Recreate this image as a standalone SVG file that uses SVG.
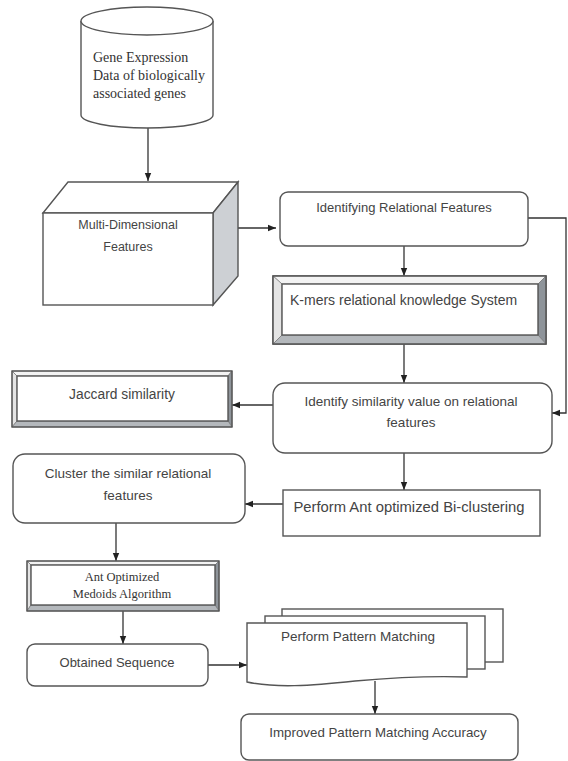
<svg xmlns="http://www.w3.org/2000/svg" width="568" height="761" viewBox="0 0 568 761">
<style>
.bx{fill:#fff;stroke:#555;stroke-width:1.4}
.ln{fill:none;stroke:#333;stroke-width:1.3}
.t{font-family:"Liberation Sans",Arial,sans-serif;fill:#444}
.s{font-family:"Liberation Serif","Times New Roman",serif;fill:#333}
.bv{stroke:#777;stroke-width:0.7}
.lt{fill:#f3f3f3}.lf{fill:#e4e4e4}.rt{fill:#8e949a}.bt{fill:#b4b8bc}
</style>
<defs>
<marker id="ah" viewBox="0 0 10 10" refX="10" refY="5" markerWidth="8" markerHeight="8" markerUnits="userSpaceOnUse" orient="auto"><path d="M0,1 L10,5 L0,9 z" fill="#222"/></marker>
</defs>
<rect width="568" height="761" fill="#fff"/>

<g id="connectors">
<path class="ln" d="M148,128 V181" marker-end="url(#ah)"/>
<path class="ln" d="M238,228 H276" marker-end="url(#ah)"/>
<path class="ln" d="M528,218 H566 V413 H552" marker-end="url(#ah)"/>
<path class="ln" d="M404,246 V276" marker-end="url(#ah)"/>
<path class="ln" d="M404,344 V383" marker-end="url(#ah)"/>
<path class="ln" d="M273,405 H232" marker-end="url(#ah)"/>
<path class="ln" d="M404,453 V490" marker-end="url(#ah)"/>
<path class="ln" d="M283,504 H245" marker-end="url(#ah)"/>
<path class="ln" d="M116,523 V561" marker-end="url(#ah)"/>
<path class="ln" d="M123,611 V644" marker-end="url(#ah)"/>
<path class="ln" d="M208,665 H247" marker-end="url(#ah)"/>
<path class="ln" d="M375,681 V714" marker-end="url(#ah)"/>
</g>

<g id="gene-data">
<path class="bx" d="M81,21 V115 A66,13 0 0 0 213,115 V21"/>
<ellipse class="bx" cx="147" cy="21" rx="66" ry="14"/>
<text class="s" font-size="14" x="93" y="62">Gene Expression</text>
<text class="s" font-size="14" x="93" y="80">Data of biologically</text>
<text class="s" font-size="14" x="93" y="98">associated genes</text>
</g>

<g id="multi-dimensional">
<polygon class="bx" points="43,213 68,182 238,182 213,213"/>
<polygon class="bx" points="213,213 238,182 238,276 213,305" style="fill:#cdd0d4"/>
<rect class="bx" x="43" y="213" width="170" height="92"/>
<text class="t" font-size="12.5" x="128" y="229" text-anchor="middle">Multi-Dimensional</text>
<text class="t" font-size="12.5" x="128" y="251" text-anchor="middle">Features</text>
</g>

<g id="identifying">
<rect class="bx" x="280" y="192" width="248" height="54" rx="8"/>
<text class="t" font-size="13" x="404" y="212" text-anchor="middle">Identifying Relational Features</text>
</g>

<g id="kmers">
<rect class="bx" x="273" y="276" width="273" height="68"/>
<polygon class="lt bv" points="273,276 546,276 538,284 282,284"/>
<polygon class="lf bv" points="273,276 282,284 282,335 273,344"/>
<polygon class="rt bv" points="546,276 546,344 538,335 538,284"/>
<polygon class="bt bv" points="273,344 546,344 538,335 282,335"/>
<rect x="273" y="276" width="273" height="68" fill="none" stroke="#555" stroke-width="1.4"/>
<rect class="bx" x="282" y="284" width="256" height="51"/>
<text class="t" font-size="14" x="290" y="305">K-mers relational knowledge System</text>
</g>

<g id="jaccard">
<polygon class="lt bv" points="12,371 232,371 228,376 17,376"/>
<polygon class="lf bv" points="12,371 17,376 17,421 12,427"/>
<polygon class="rt bv" points="232,371 232,427 228,421 228,376"/>
<polygon class="bt bv" points="12,427 232,427 228,421 17,421"/>
<rect x="12" y="371" width="220" height="56" fill="none" stroke="#555" stroke-width="1.4"/>
<rect class="bx" x="17" y="376" width="211" height="45"/>
<text class="t" font-size="13.8" x="122" y="399" text-anchor="middle">Jaccard similarity</text>
</g>

<g id="identify-similarity">
<rect class="bx" x="273" y="383" width="279" height="70" rx="12"/>
<text class="t" font-size="13.5" x="411" y="406" text-anchor="middle">Identify similarity value on relational</text>
<text class="t" font-size="13.5" x="411" y="427" text-anchor="middle">features</text>
</g>

<g id="cluster">
<rect class="bx" x="13" y="454" width="232" height="69" rx="12"/>
<text class="t" font-size="13.5" x="128" y="478" text-anchor="middle">Cluster the similar relational</text>
<text class="t" font-size="13.5" x="128" y="500" text-anchor="middle">features</text>
</g>

<g id="perform-ant">
<rect class="bx" x="283" y="490" width="257" height="46"/>
<text class="t" font-size="14.8" x="409" y="512" text-anchor="middle">Perform Ant optimized Bi-clustering</text>
</g>

<g id="ant-medoids">
<polygon class="lt bv" points="27,561 219,561 215,565 31,565"/>
<polygon class="lf bv" points="27,561 31,565 31,605 27,611"/>
<polygon class="rt bv" points="219,561 219,611 215,605 215,565"/>
<polygon class="bt bv" points="27,611 219,611 215,605 31,605"/>
<rect x="27" y="561" width="192" height="50" fill="none" stroke="#555" stroke-width="1.4"/>
<rect class="bx" x="31" y="565" width="184" height="40"/>
<text class="s" font-size="12.5" x="122" y="581" text-anchor="middle">Ant Optimized</text>
<text class="s" font-size="12.5" x="122" y="598" text-anchor="middle">Medoids Algorithm</text>
</g>

<g id="obtained">
<rect class="bx" x="27" y="644" width="181" height="42" rx="8"/>
<text class="t" font-size="13" x="117" y="667" text-anchor="middle">Obtained Sequence</text>
</g>

<g id="pattern-matching">
<rect class="bx" x="282" y="609" width="221" height="53"/>
<rect class="bx" x="265" y="616" width="220" height="53"/>
<path class="bx" d="M247,623 H467 V677 C440,676 400,677 355,681 C310,686 275,688 247,682 Z"/>
<text class="t" font-size="13.5" x="358" y="641" text-anchor="middle">Perform Pattern Matching</text>
</g>

<g id="improved">
<rect class="bx" x="241" y="714" width="277" height="46" rx="8"/>
<text class="t" font-size="13.3" x="378" y="737" text-anchor="middle">Improved Pattern Matching Accuracy</text>
</g>
</svg>
